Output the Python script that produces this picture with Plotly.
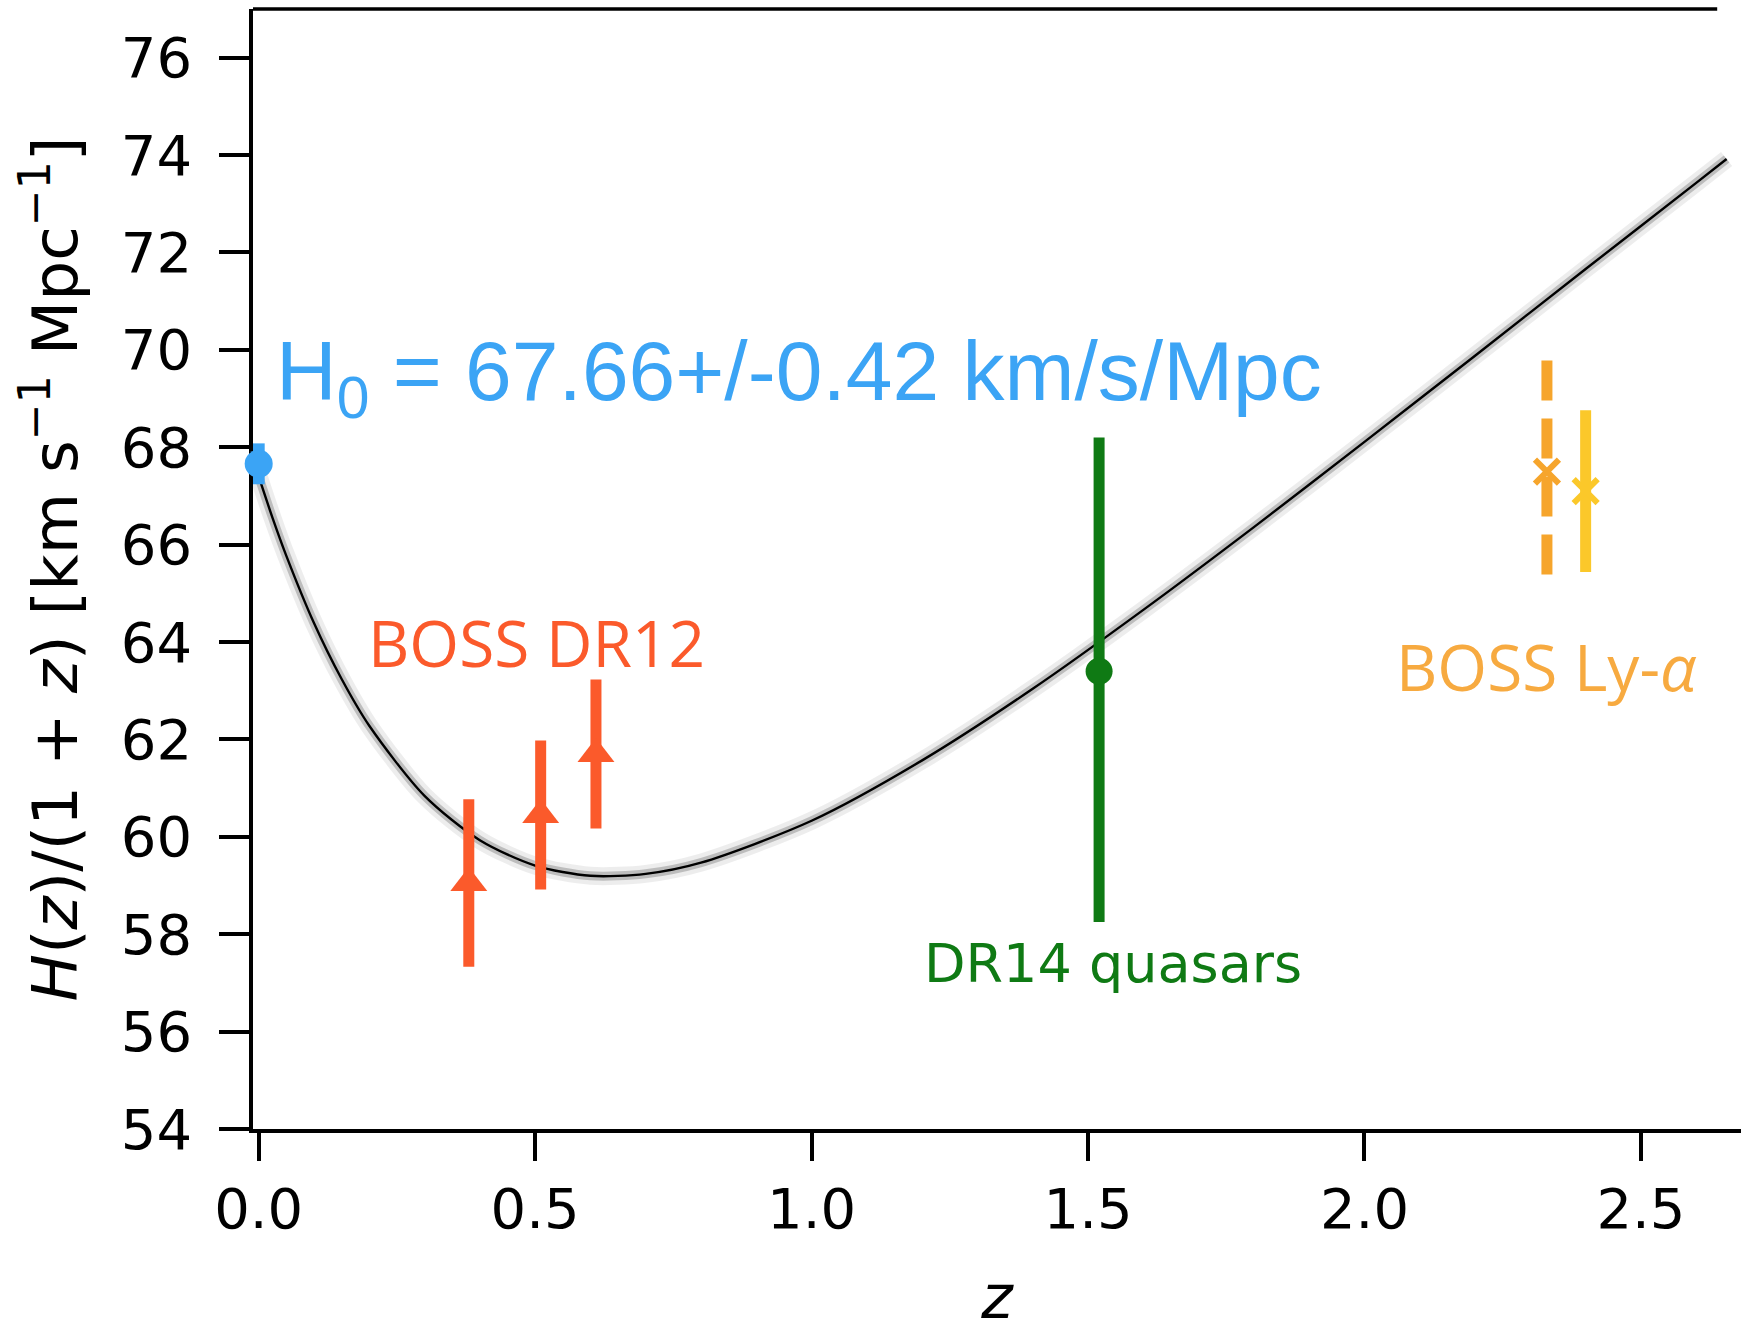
import plotly.graph_objects as go

# ---- data -------------------------------------------------------------
# LCDM expansion history, H(z)/(1+z) in km/s/Mpc
curve_z = [0.0, 0.025, 0.05, 0.1, 0.15, 0.2, 0.3, 0.4, 0.5, 0.6, 0.7, 0.8,
           1.0, 1.2, 1.4, 1.6, 1.8, 2.0, 2.2, 2.4, 2.6, 2.655]
curve_h = [67.4, 66.55, 65.77, 64.39, 63.24, 62.28, 60.84, 59.93, 59.41, 59.20,
           59.24, 59.47, 60.33, 61.57, 63.04, 64.66, 66.36, 68.11, 69.88,
           71.66, 73.43, 73.92]

# local H0 measurement
h0_z = [0.0]
h0_val = [67.66]
h0_err = [0.42]

# BOSS DR12 galaxies
dr12_z = [0.38, 0.51, 0.61]
dr12_h = [59.05, 60.45, 61.7]
dr12_err = [1.72, 1.53, 1.53]

# eBOSS DR14 quasars
dr14_z = [1.52]
dr14_h = [63.4]
dr14_err_plus = [4.8]
dr14_err_minus = [5.15]

# BOSS Lyman-alpha: auto-correlation and cross-correlation
lya_auto_z = [2.33]
lya_auto_h = [67.5]
lya_auto_err = [2.28]
lya_cross_z = [2.40]
lya_cross_h = [67.1]
lya_cross_err = [1.66]

x_ticks = [0.0, 0.5, 1.0, 1.5, 2.0, 2.5]
x_ticktext = ["0.0", "0.5", "1.0", "1.5", "2.0", "2.5"]
y_ticks = list(range(54, 78, 2))

# ---- colours ----------------------------------------------------------
BLUE = "#3ba4f5"
RED = "#fb5a2b"
GREEN = "#0f7a14"
ORANGE = "#f6a52c"
YELLOW = "#fbc82a"

fig = go.Figure()

# grey uncertainty halo + central model line
for w, col in [(18, "rgba(0,0,0,0.07)"), (9, "rgba(0,0,0,0.2)"), (2.4, "black")]:
    fig.add_trace(go.Scatter(
        x=curve_z, y=curve_h, mode="lines",
        line=dict(color=col, width=w, shape="spline", smoothing=0.8),
        hoverinfo="skip"))

# BOSS DR12
fig.add_trace(go.Scatter(
    x=dr12_z, y=dr12_h, mode="markers",
    marker=dict(symbol="triangle-up", size=32, color=RED),
    error_y=dict(type="data", array=dr12_err, color=RED, thickness=11, width=0)))

# DR14 quasars
fig.add_trace(go.Scatter(
    x=dr14_z, y=dr14_h, mode="markers",
    marker=dict(symbol="circle", size=27, color=GREEN),
    error_y=dict(type="data", symmetric=False, array=dr14_err_plus,
                 arrayminus=dr14_err_minus, color=GREEN, thickness=11, width=0)))

# Ly-alpha auto: dashed error bar
fig.add_trace(go.Scatter(
    x=[lya_auto_z[0], lya_auto_z[0]],
    y=[lya_auto_h[0] + lya_auto_err[0], lya_auto_h[0] - lya_auto_err[0]],
    mode="lines", line=dict(color=ORANGE, width=11, dash="40px,18px"),
    hoverinfo="skip"))
fig.add_trace(go.Scatter(
    x=lya_auto_z, y=lya_auto_h, mode="markers",
    marker=dict(symbol="x-thin", size=24, color=ORANGE,
                line=dict(color=ORANGE, width=6))))

# Ly-alpha cross
fig.add_trace(go.Scatter(
    x=lya_cross_z, y=lya_cross_h, mode="markers",
    marker=dict(symbol="x-thin", size=24, color=YELLOW,
                line=dict(color=YELLOW, width=6)),
    error_y=dict(type="data", array=lya_cross_err, color=YELLOW, thickness=11, width=0)))

# H0 point
fig.add_trace(go.Scatter(
    x=h0_z, y=h0_val, mode="markers", cliponaxis=False,
    marker=dict(symbol="circle", size=28, color=BLUE),
    error_y=dict(type="data", array=h0_err, color=BLUE, thickness=12, width=0)))

# ---- labels -------------------------------------------------------------
fig.add_annotation(
    x=0.028, y=69.45, xanchor="left", yanchor="middle", showarrow=False,
    text=f"H<sub>0</sub> = {h0_val[0]:.2f}+/-{h0_err[0]:.2f} km/s/Mpc",
    font=dict(family="Liberation Sans", size=84, color=BLUE))
fig.add_annotation(
    x=0.502, y=64.0, xanchor="center", yanchor="middle", showarrow=False,
    text="BOSS DR12", font=dict(family="Open Sans", size=64, color=RED))
fig.add_annotation(
    x=1.545, y=57.4, xanchor="center", yanchor="middle", showarrow=False,
    text="DR14 quasars", font=dict(family="DejaVu Sans", size=54, color=GREEN))
fig.add_annotation(
    x=2.33, y=63.5, xanchor="center", yanchor="middle", showarrow=False,
    text="BOSS Ly-<i>α</i>", font=dict(family="Open Sans", size=64, color="#f7aa40"))

# top frame line
fig.add_shape(type="line", xref="paper", yref="paper", x0=0, x1=0.984, y0=1, y1=1,
              line=dict(color="black", width=3.5))

axis_font = dict(family="DejaVu Sans", size=56, color="black")
fig.update_xaxes(
    range=[-0.0103, 2.681], tickvals=x_ticks, ticktext=x_ticktext,
    showgrid=False, zeroline=False, showline=True, linecolor="black", linewidth=3.5,
    ticks="outside", ticklen=28, tickwidth=3.5, tickcolor="black",
    tickfont=axis_font, ticklabelstandoff=0, layer="below traces",
    title=dict(text="<i>z</i>", font=dict(family="DejaVu Sans", size=60, color="black"),
               standoff=66))
fig.update_yaxes(
    range=[54, 77], tickvals=y_ticks,
    showgrid=False, zeroline=False, showline=True, linecolor="black", linewidth=3.5,
    ticks="outside", ticklen=30, tickwidth=3.5, tickcolor="black",
    tickfont=axis_font, ticklabelstandoff=16, layer="below traces",
    title=dict(text="<i>H</i>(<i>z</i>)/(1 + <i>z</i>) [km s<sup>−1</sup> Mpc<sup>−1</sup>]",
               font=dict(family="DejaVu Sans", size=63, color="black"), standoff=24))

fig.update_layout(
    width=1741, height=1332, showlegend=False,
    margin=dict(l=253, r=0, t=9, b=203, autoexpand=False),
    paper_bgcolor="white", plot_bgcolor="white")

fig.write_html("out.html")
